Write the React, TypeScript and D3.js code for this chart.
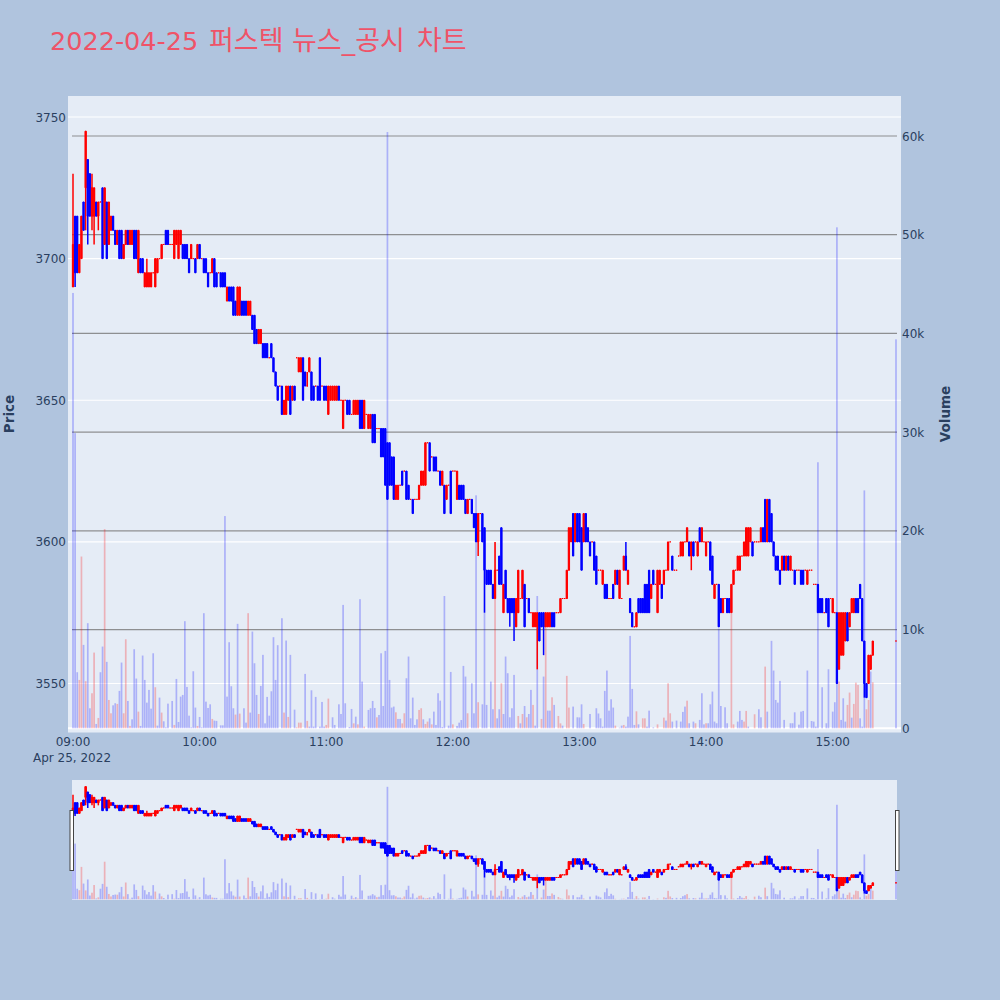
import React from "react";
import * as d3 from "d3";

const titleDate = "2022-04-25";
const titleWords = ["퍼스텍", "뉴스_공시", "차트"];
const priceTicks = [3550, 3600, 3650, 3700, 3750];
const volumeTicks = [0, 10000, 20000, 30000, 40000, 50000, 60000];
const hourTicks = [0, 60, 120, 180, 240, 300, 360];
const hourLabels = ["09:00", "10:00", "11:00", "12:00", "13:00", "14:00", "15:00"];
const lastMinute = 390;

const opens = [
3690,3715,3715,3695,3700,3720,3725,3735,3730,3715,
3715,3720,3715,3720,3725,3705,3720,3705,3710,3715,
3710,3705,3710,3710,3700,3705,3710,3705,3705,3710,
3710,3695,3700,3700,3690,3690,3690,3690,3695,3690,
3695,3700,3700,3705,3710,3710,3705,3705,3700,3705,
3700,3705,3705,3705,3705,3700,3700,3700,3700,3700,
3705,3700,3700,3700,3695,3695,3695,3700,3695,3695,
3695,3695,3695,3685,3690,3690,3690,3685,3680,3680,
3685,3685,3685,3680,3680,3680,3680,3675,3670,3670,
3670,3670,3670,3665,3670,3665,3660,3655,3655,3655,
3645,3645,3650,3655,3650,3655,3665,3660,3660,3665,
3660,3655,3660,3660,3655,3655,3655,3665,3655,3655,
3655,3645,3650,3650,3650,3650,3655,3650,3640,3650,
3650,3650,3645,3645,3645,3645,3650,3650,3640,3645,
3640,3640,3645,3645,3640,3640,3640,3640,3640,3635,
3635,3630,3630,3615,3615,3620,3625,3625,3625,3620,
3615,3615,3615,3615,3615,3620,3620,3620,3635,3635,
3630,3630,3630,3625,3625,3620,3620,3615,3620,3625,
3625,3625,3615,3620,3620,3620,3615,3610,3615,3615,
3610,3610,3600,3610,3610,3605,3590,3590,3590,3585,
3580,3590,3595,3605,3575,3590,3580,3580,3580,3580,
3570,3575,3580,3580,3585,3580,3580,3575,3570,3570,
3570,3575,3575,3575,3570,3570,3570,3575,3575,3575,
3575,3575,3580,3580,3580,3590,3600,3610,3600,3610,
3610,3605,3600,3610,3605,3600,3600,3600,3595,3590,
3590,3585,3585,3585,3580,3580,3585,3585,3590,3580,
3580,3590,3595,3585,3580,3575,3570,3570,3580,3580,
3580,3585,3585,3590,3580,3590,3585,3575,3585,3585,
3585,3590,3590,3600,3595,3590,3590,3595,3595,3595,
3600,3600,3600,3595,3600,3600,3595,3605,3600,3600,
3595,3600,3600,3595,3580,3585,3585,3580,3575,3580,
3580,3580,3575,3585,3590,3590,3590,3595,3595,3595,
3595,3600,3600,3600,3600,3600,3600,3605,3615,3600,
3615,3610,3600,3595,3595,3590,3590,3595,3590,3595,
3590,3590,3590,3590,3590,3590,3590,3590,3585,3590,
3590,3585,3585,3585,3580,3580,3575,3580,3580,3580,
3575,3575,3575,3555,3560,3560,3565,3575,3570,3575,
3575,3580,3580,3585,3580,3565,3550,3550,3555,3560,
3565];

const closes = [
3705,3695,3695,3705,3715,3710,3745,3715,3715,3725,
3725,3715,3720,3720,3700,3725,3700,3720,3715,3710,
3705,3710,3700,3700,3705,3710,3705,3710,3710,3700,
3700,3710,3695,3695,3695,3695,3695,3695,3695,3700,
3700,3700,3705,3705,3705,3705,3705,3705,3710,3710,
3710,3710,3700,3700,3700,3695,3705,3700,3695,3705,
3700,3700,3695,3695,3690,3695,3700,3690,3690,3695,
3690,3690,3690,3690,3685,3685,3680,3680,3690,3690,
3680,3680,3680,3685,3685,3675,3670,3670,3675,3675,
3665,3665,3665,3665,3665,3660,3655,3650,3655,3645,
3650,3655,3655,3645,3655,3650,3665,3665,3665,3650,
3655,3655,3665,3650,3650,3655,3650,3650,3655,3650,
3650,3655,3655,3655,3655,3655,3650,3650,3650,3650,
3645,3645,3645,3650,3650,3650,3640,3640,3650,3645,
3645,3645,3635,3635,3640,3640,3630,3630,3620,3615,
3620,3620,3615,3620,3620,3620,3620,3625,3615,3615,
3615,3610,3615,3615,3620,3625,3625,3635,3635,3625,
3630,3625,3625,3625,3620,3625,3610,3620,3620,3610,
3625,3625,3625,3615,3615,3615,3610,3615,3615,3610,
3605,3600,3610,3610,3600,3590,3585,3585,3585,3580,
3590,3590,3585,3585,3585,3580,3575,3575,3575,3575,
3580,3590,3580,3590,3570,3580,3575,3575,3575,3575,
3575,3565,3570,3570,3575,3575,3575,3570,3570,3575,
3575,3580,3580,3580,3590,3605,3605,3595,3610,3600,
3600,3590,3610,3600,3600,3595,3600,3590,3585,3590,
3590,3590,3580,3580,3580,3580,3580,3590,3585,3590,
3580,3595,3590,3590,3575,3570,3570,3575,3575,3575,
3575,3575,3575,3575,3585,3585,3585,3590,3590,3580,
3590,3590,3600,3600,3590,3590,3590,3595,3600,3600,
3600,3605,3595,3600,3595,3600,3600,3600,3605,3600,
3600,3600,3590,3585,3585,3585,3570,3575,3580,3580,
3575,3575,3585,3590,3590,3595,3595,3595,3600,3605,
3605,3605,3595,3600,3600,3600,3605,3600,3600,3615,
3600,3600,3595,3590,3590,3585,3595,3590,3595,3590,
3595,3590,3585,3590,3590,3585,3585,3590,3590,3590,
3590,3585,3585,3575,3575,3575,3575,3575,3570,3580,
3580,3575,3550,3575,3575,3575,3575,3565,3575,3580,
3580,3575,3575,3580,3565,3550,3545,3560,3560,3565,
3565];

const highWicks: [number, number][] = [[0,3730],[9,3730],[35,3700],[111,3660],[200,3600],[262,3600]];
const lowWicks: [number, number][] = [[1,3690],[6,3710],[7,3705],[9,3710],[10,3705],[12,3710],[192,3595],[195,3575],[207,3570],[209,3565],[220,3555],[223,3560],[293,3590],[375,3545]];

const volumes = [
44100,29900,5680,4900,17400,8450,4770,10650,2030,3550,
7670,440,1050,5680,8280,20180,6730,2870,1520,2330,
2540,2470,3790,6660,1520,9020,2770,240,910,8010,
5040,1690,240,7370,4900,2600,3890,1990,7600,4160,
270,3110,1590,710,100,2500,0,2770,340,5000,
640,3210,3380,10850,4190,1280,100,5780,2100,240,
1150,100,11660,2700,2060,2430,950,780,750,0,
300,300,21500,3210,8720,4260,2030,1390,10580,1490,
0,2030,575,11660,1590,9800,6590,3380,1450,4290,
7440,500,3180,1280,3750,9230,4900,8420,0,11150,
1590,8890,1150,7440,0,1890,100,575,575,0,
5510,750,170,3850,170,3180,0,170,2670,170,
340,3010,0,1115,340,0,2430,1450,12500,2535,
0,135,1960,500,1180,400,13080,4730,170,0,
1860,2030,2770,2060,1115,1350,7600,2260,7840,60400,
4900,2100,2200,1620,950,950,500,1520,5070,7270,
1010,3110,340,910,1860,2030,910,440,680,1010,
400,1690,340,3550,2800,135,13400,0,270,5710,
400,0,240,570,840,6320,5240,1520,0,4560,
1520,23600,2640,0,2430,20000,2370,0,4730,1930,
18840,1010,1930,4560,1450,7270,5580,1115,2030,5410,
0,1250,500,1450,2260,1115,1450,3890,2370,270,
13400,0,950,5240,10330,1790,1790,3140,2370,0,
1250,500,270,0,5310,2100,0,2200,0,1115,
1100,2430,440,0,0,1450,0,0,2030,1500,
1010,170,3790,5850,1790,2940,2100,270,0,70,
270,340,170,1180,9360,3990,340,1720,400,0,
1010,1010,170,1790,0,100,0,400,0,0,
1080,780,4560,1520,680,0,780,0,680,1660,
2200,2800,510,0,680,510,0,850,3550,400,
510,510,2430,3720,680,510,10100,2260,0,2130,
510,0,11650,400,0,680,1760,850,680,1760,
170,0,0,1420,0,1930,1115,0,6250,1690,
0,8860,5850,2870,2600,4800,0,850,0,0,
510,510,1620,0,370,1690,1760,0,5850,0,
740,680,170,26950,0,4160,0,510,5980,0,
1690,2640,50750,4730,850,3040,680,2370,3620,1080,
2470,4630,4390,1010,170,24100,1930,2870,5750,4660,
39400];

const redVolumeMinutes = [3,4,6,9,10,12,15,17,18,21,24,25,27,31,39,42,48,59,66,77,79,83,88,100,102,106,107,108,111,120,121,133,135,138,144,153,156,157,164,165,167,168,170,180,187,192,200,203,211,213,215,218,222,224,227,230,231,234,235,242,257,261,267,270,271,277,280,282,283,291,295,300,312,313,318,319,323,328,363,367,368,370,371,372,376,377,379];

const UP = "#ff0000";
const DOWN = "#0000ff";
const INK = "#2a3f5f";
const FONT = '"DejaVu Sans", "Noto Sans CJK KR", sans-serif';

const highMap = new Map(highWicks);
const lowMap = new Map(lowWicks);
const redSet = new Set(redVolumeMinutes);
const candles = opens.map((o, i) => {
  const c = closes[i];
  const minute = i === opens.length - 1 ? lastMinute : i;
  return { minute, o, c, h: highMap.get(i) ?? Math.max(o, c), l: lowMap.get(i) ?? Math.min(o, c), v: volumes[i], red: redSet.has(i), up: c >= o };
});

const xMain = d3.scaleLinear().domain([0, lastMinute]).range([73, 896]);
const yPrice = d3.scaleLinear().domain([3550, 3750]).range([683.5, 117]);
const yVol = d3.scaleLinear().domain([0, 60000]).range([728.3, 136]);
const yPriceMini = d3.scaleLinear().domain([yPrice.invert(732), yPrice.invert(96)]).range([900, 780]);
const yVolMini = d3.scaleLinear().domain([yVol.invert(732), yVol.invert(96)]).range([900, 780]);

function Bars({ yV, base }: { yV: any; base: number }) {
  return (
    <g>
      {candles.map((d) => (
        <rect key={"v" + d.minute} x={xMain(d.minute) - 0.85} width={1.7} y={yV(d.v)} height={Math.max(0, base - yV(d.v))}
          fill={d.red ? UP : DOWN} fillOpacity={0.25} />
      ))}
    </g>
  );
}

function Candles({ yP, wick, body }: { yP: any; wick: number; body: number }) {
  return (
    <g>
      {candles.map((d) => {
        const col = d.up ? UP : DOWN;
        const cx = xMain(d.minute);
        const top = yP(Math.max(d.o, d.c));
        const bot = yP(Math.min(d.o, d.c));
        const box = d3.path();
        box.moveTo(cx - body / 2, top);
        box.lineTo(cx + body / 2, top);
        box.lineTo(cx + body / 2, bot);
        box.lineTo(cx - body / 2, bot);
        box.closePath();
        return (
          <g key={"c" + d.minute}>
            <line x1={cx} x2={cx} y1={yP(d.h)} y2={yP(d.l)} stroke={col} strokeWidth={wick} />
            <path d={box.toString()} fill={col} stroke={col} strokeWidth={1} />
          </g>
        );
      })}
    </g>
  );
}

export default function App() {
  return (
    <svg width={1000} height={1000} viewBox="0 0 1000 1000" style={{ position: "absolute", left: 0, top: 0, display: "block" }} fontFamily={FONT}>
      <rect width={1000} height={1000} fill="#b0c4de" />
      <text x={50} y={50} fontSize={25.5} fill="#ef5368">{titleDate}</text>
      <text y={50} fontSize={27} fill="#ef5368">
        <tspan x={209}>{titleWords[0]}</tspan>
        <tspan x={292}>{titleWords[1]}</tspan>
        <tspan x={417}>{titleWords[2]}</tspan>
      </text>

      <rect x={68} y={96} width={833} height={636.5} fill="#e5ecf6" />
      {priceTicks.map((p) => (
        <line key={p} x1={68} x2={901} y1={yPrice(p)} y2={yPrice(p)} stroke="#fff" strokeWidth={1.2} />
      ))}
      <line x1={68} x2={901} y1={yVol(0)} y2={yVol(0)} stroke="#fff" strokeWidth={2} />
      {volumeTicks.slice(1).map((v) => (
        <line key={v} x1={72} x2={897} y1={yVol(v)} y2={yVol(v)} stroke="#7f7f7f" strokeWidth={1.2} strokeOpacity={0.85} />
      ))}
      <Bars yV={yVol} base={yVol(0)} />
      <Candles yP={yPrice} wick={1.5} body={1.3} />

      {priceTicks.map((p) => (
        <text key={p} x={66} y={yPrice(p) + 4.5} textAnchor="end" fontSize={12} fill={INK}>{p}</text>
      ))}
      {volumeTicks.map((v) => (
        <text key={v} x={902} y={yVol(v) + 4.5} fontSize={12} fill={INK}>{v === 0 ? "0" : `${v / 1000}k`}</text>
      ))}
      {hourTicks.map((m, i) => (
        <text key={m} x={xMain(m)} y={746} textAnchor="middle" fontSize={12} fill={INK}>{hourLabels[i]}</text>
      ))}
      <text x={33} y={762} fontSize={12} fill={INK}>Apr 25, 2022</text>
      <text transform="translate(14,414) rotate(-90)" textAnchor="middle" fontSize={13.5} fontWeight="bold" fill={INK}>Price</text>
      <text transform="translate(950,414) rotate(-90)" textAnchor="middle" fontSize={13.5} fontWeight="bold" fill={INK}>Volume</text>

      <rect x={72} y={780} width={825} height={120} fill="#e5ecf6" />
      <Bars yV={yVolMini} base={yVolMini(0)} />
      <Candles yP={yPriceMini} wick={1.5} body={1.6} />
      <rect x={70} y={810.5} width={3.5} height={60} fill="#fff" stroke="#444" strokeWidth={1} />
      <rect x={895.5} y={810.5} width={3.5} height={60} fill="#fff" stroke="#444" strokeWidth={1} />
    </svg>
  );
}
